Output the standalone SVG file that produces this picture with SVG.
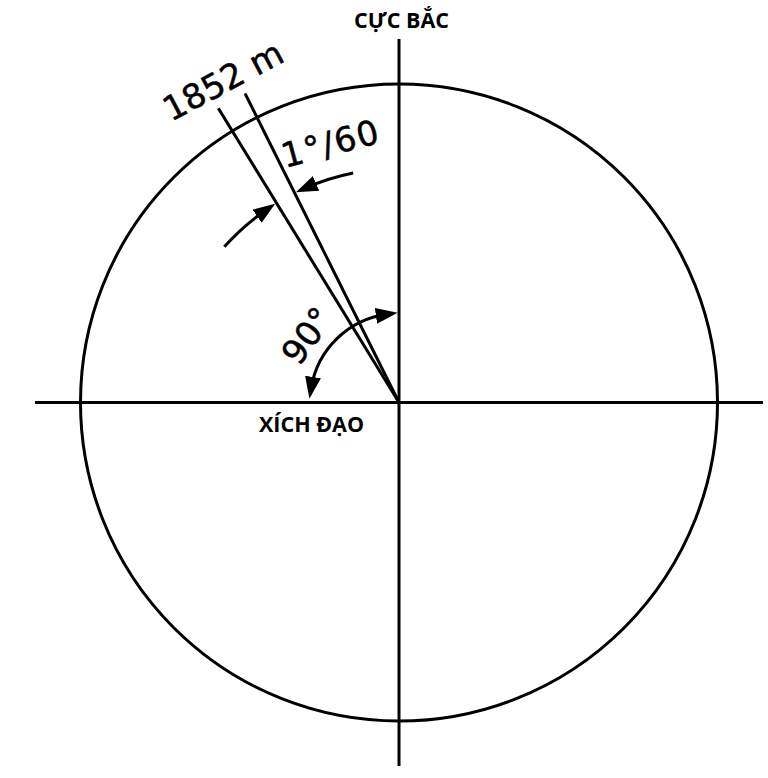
<svg xmlns="http://www.w3.org/2000/svg" width="768" height="778" viewBox="0 0 768 778">
<style>
.ln{fill:none;stroke:#000;stroke-width:3}
.ttl{font-family:"Open Sans","DejaVu Sans",sans-serif;font-weight:bold;font-size:21.5px;fill:#000}
.num{font-family:"DejaVu Sans","Liberation Sans",sans-serif;font-size:34px;fill:#000;stroke:#000;stroke-width:0.5}
</style>
<defs>
<marker id="ah" viewBox="0 0 22 16" markerWidth="22" markerHeight="16" refX="11" refY="8" orient="auto-start-reverse" markerUnits="userSpaceOnUse">
<path d="M0,0 L22,8 L0,16 z" fill="#000"/>
</marker>
</defs>
<rect width="768" height="778" fill="#fff"/>
<g id="earth">
<circle class="ln" cx="399" cy="402.5" r="318.5"/>
</g>
<g id="axes">
<line class="ln" x1="35" y1="402.5" x2="763" y2="402.5"/>
<line class="ln" x1="399" y1="39" x2="399" y2="766"/>
</g>
<g id="connectors">
<line class="ln" x1="218.3" y1="108.3" x2="399" y2="402.5"/>
<line class="ln" x1="245" y1="93.3" x2="399" y2="402.5"/>
<path class="ln" d="M224.3,246.8 A234,234 0 0 1 266.1,209.9" marker-end="url(#ah)"/>
<path class="ln" d="M353.2,173 A234,234 0 0 0 306,187.8" marker-end="url(#ah)"/>
<path class="ln" d="M311.2,387.9 A89,89 0 0 1 386.8,314.3" marker-start="url(#ah)" marker-end="url(#ah)"/>
</g>
<g id="labels">
<text class="ttl" x="401.5" y="28.3" text-anchor="middle">CỰC BẮC</text>
<text class="ttl" x="311.5" y="431.7" text-anchor="middle">XÍCH ĐẠO</text>
<text class="num" x="171" y="122" transform="rotate(-28 171 122)">1852 m</text>
<text class="num" x="285" y="168" font-size="32" letter-spacing="1.5" transform="rotate(-15 285 168)">1°/60</text>
<text class="num" x="299" y="367" transform="rotate(-54 299 367)">90°</text>
</g>
</svg>
